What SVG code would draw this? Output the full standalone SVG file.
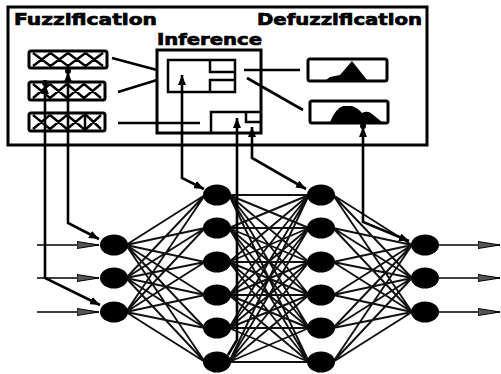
<svg xmlns="http://www.w3.org/2000/svg" width="501" height="374" viewBox="0 0 501 374">
<style>
.box{fill:none;stroke:#000;stroke-width:3}
.thin{fill:none;stroke:#000;stroke-width:2.5}
.mf{fill:none;stroke:#000;stroke-width:2.4}
.lbl{font-family:"DejaVu Sans","Liberation Sans",sans-serif;font-weight:bold;font-size:16px;fill:#000;stroke:#000;stroke-width:0.7}
.node{fill:#000}
.mesh{fill:none;stroke:#111;stroke-width:1.9}
.fb{fill:none;stroke:#000;stroke-width:2.6}
.io{fill:none;stroke:#000;stroke-width:1.6}
</style>
<defs>
<marker id="tip" viewBox="0 0 10 8" refX="10" refY="4" markerWidth="10" markerHeight="8" markerUnits="userSpaceOnUse" orient="auto-start-reverse"><path d="M0 0L10 4L0 8z" fill="#000"/></marker>
<marker id="tipc" viewBox="0 0 15 10" refX="14" refY="5" markerWidth="15" markerHeight="10" markerUnits="userSpaceOnUse" orient="auto-start-reverse"><path d="M0 1L10 5L0 9z" fill="#000"/><circle cx="11" cy="5" r="3" fill="#000"/></marker>
<marker id="arr" viewBox="0 0 22 10" refX="22" refY="5" markerWidth="22" markerHeight="10" markerUnits="userSpaceOnUse" orient="auto"><path d="M0 1.5L22 5L0 8.5z" fill="#555" stroke="#000" stroke-width="1"/></marker>
</defs>
<rect width="501" height="374" fill="#fff"/>

<g id="fuzzy-system">
<rect class="box" x="8" y="7" width="419" height="138"/>
<text class="lbl" x="14" y="25" textLength="143" lengthAdjust="spacingAndGlyphs">Fuzzification</text>
<text class="lbl" x="257" y="25" textLength="165" lengthAdjust="spacingAndGlyphs">Defuzzification</text>
</g>

<g id="fuzz1">
<rect class="box" x="29" y="51" width="78" height="17" rx="2"/>
<path class="mf" d="M33 53L50.5 66M33 66L50.5 53M50.5 53L68 66M50.5 66L68 53M68 53L85.5 66M68 66L85.5 53M85.5 53L103 66M85.5 66L103 53"/>
</g>
<g id="fuzz2">
<rect class="box" x="29" y="82" width="76" height="18" rx="2"/>
<path class="mf" d="M33 84L50 98M33 98L50 84M50 84L67 98M50 98L67 84M67 84L84 98M67 98L84 84M84 84L101 98M84 98L101 84"/>
</g>
<g id="fuzz3">
<rect class="box" x="29" y="113" width="76" height="18" rx="2"/>
<path class="mf" d="M33 115L50 129M33 129L50 115M50 115L67 129M50 129L67 115M67 115L84 129M67 129L84 115M86 115L101 129M86 129L101 115M85 114V130"/>
</g>

<g id="inference">
<rect class="box" x="157" y="50" width="104" height="83"/>
<text class="lbl" x="157" y="45" textLength="105" lengthAdjust="spacingAndGlyphs">Inference</text>
<rect class="thin" x="168" y="60" width="67" height="32"/>
<path class="thin" d="M210 60V72H235M210 92V80H235"/>
<path class="thin" d="M211 133V112H260M246 112V122H260"/>
</g>

<g id="defuzz1">
<rect class="box" x="308" y="59" width="79" height="22" rx="2"/>
<path d="M326 80L330 77L340 75L352 61L367 80z" fill="#000"/>
</g>
<g id="defuzz2">
<rect class="box" x="310" y="101" width="78" height="22" rx="2"/>
<path d="M330 122Q336 108 343 106L352 106Q358 108 362 113Q368 110 372 114Q377 118 382 122z" fill="#000"/>
</g>

<g id="connectors">
<path class="fb" d="M112 58L157 70M118 92L157 80M118 123H200M244 70H300M247 78L303 110"/>
<path class="mesh" d="M126 245L205 195M126 245L205 228M126 245L205 262M126 245L205 295M126 245L205 328M126 245L205 362M126 278L205 195M126 278L205 228M126 278L205 262M126 278L205 295M126 278L205 328M126 278L205 362M126 312L205 195M126 312L205 228M126 312L205 262M126 312L205 295M126 312L205 328M126 312L205 362"/>
<path class="mesh" d="M229 195L309 195M229 195L309 228M229 195L309 262M229 195L309 295M229 195L309 328M229 195L309 362M229 228L309 195M229 228L309 228M229 228L309 262M229 228L309 295M229 228L309 328M229 228L309 362M229 262L309 195M229 262L309 228M229 262L309 262M229 262L309 295M229 262L309 328M229 262L309 362M229 295L309 195M229 295L309 228M229 295L309 262M229 295L309 295M229 295L309 328M229 295L309 362M229 328L309 195M229 328L309 228M229 328L309 262M229 328L309 295M229 328L309 328M229 328L309 362M229 362L309 195M229 362L309 228M229 362L309 262M229 362L309 295M229 362L309 328M229 362L309 362"/>
<path class="mesh" d="M333 195L412 245M333 195L412 278M333 195L412 312M333 228L412 245M333 228L412 278M333 228L412 312M333 262L412 245M333 262L412 278M333 262L412 312M333 295L412 245M333 295L412 278M333 295L412 312M333 328L412 245M333 328L412 278M333 328L412 312M333 362L412 245M333 362L412 278M333 362L412 312"/>
<path class="fb" d="M68 68V223L99 239" marker-start="url(#tipc)" marker-end="url(#tip)"/>
<path class="fb" d="M45 80V278L100 305" marker-start="url(#tipc)" marker-end="url(#tip)"/>
<path class="fb" d="M182 75V178L204 189" marker-start="url(#tip)" marker-end="url(#tip)"/>
<path class="fb" d="M237 118V340L228 355" marker-start="url(#tip)"/>
<path class="fb" d="M252 127V158L306 189" marker-start="url(#tip)" marker-end="url(#tip)"/>
<path class="fb" d="M363 123V222L409 241" marker-start="url(#tipc)" marker-end="url(#tip)"/>
<path class="io" d="M37 245H99" marker-end="url(#arr)"/>
<path class="io" d="M37 278H99" marker-end="url(#arr)"/>
<path class="io" d="M37 312H99" marker-end="url(#arr)"/>
<path class="io" d="M439 245H500" marker-end="url(#arr)"/>
<path class="io" d="M439 278H500" marker-end="url(#arr)"/>
<path class="io" d="M439 312H500" marker-end="url(#arr)"/>
</g>

<g id="in1"><ellipse class="node" cx="114" cy="245" rx="14" ry="10.5"/></g>
<g id="in2"><ellipse class="node" cx="114" cy="278" rx="14" ry="10.5"/></g>
<g id="in3"><ellipse class="node" cx="114" cy="312" rx="14" ry="10.5"/></g>
<g id="h1a"><ellipse class="node" cx="217" cy="195" rx="14" ry="10.5"/></g>
<g id="h1b"><ellipse class="node" cx="217" cy="228" rx="14" ry="10.5"/></g>
<g id="h1c"><ellipse class="node" cx="217" cy="262" rx="14" ry="10.5"/></g>
<g id="h1d"><ellipse class="node" cx="217" cy="295" rx="14" ry="10.5"/></g>
<g id="h1e"><ellipse class="node" cx="217" cy="328" rx="14" ry="10.5"/></g>
<g id="h1f"><ellipse class="node" cx="217" cy="362" rx="14" ry="10.5"/></g>
<g id="h2a"><ellipse class="node" cx="321" cy="195" rx="14" ry="10.5"/></g>
<g id="h2b"><ellipse class="node" cx="321" cy="228" rx="14" ry="10.5"/></g>
<g id="h2c"><ellipse class="node" cx="321" cy="262" rx="14" ry="10.5"/></g>
<g id="h2d"><ellipse class="node" cx="321" cy="295" rx="14" ry="10.5"/></g>
<g id="h2e"><ellipse class="node" cx="321" cy="328" rx="14" ry="10.5"/></g>
<g id="h2f"><ellipse class="node" cx="321" cy="362" rx="14" ry="10.5"/></g>
<g id="out1"><ellipse class="node" cx="425" cy="245" rx="14" ry="10.5"/></g>
<g id="out2"><ellipse class="node" cx="425" cy="278" rx="14" ry="10.5"/></g>
<g id="out3"><ellipse class="node" cx="425" cy="312" rx="14" ry="10.5"/></g>
</svg>
